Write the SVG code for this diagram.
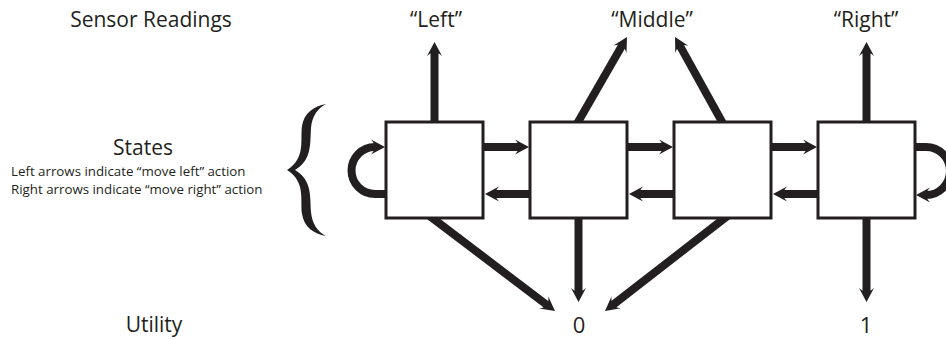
<svg xmlns="http://www.w3.org/2000/svg" width="946" height="339" viewBox="0 0 946 339">
<style>
.t{font-family:"Open Sans","Liberation Sans",sans-serif;fill:#231f20}
.lg{font-size:21px}
.sm{font-size:13.3px}
.num{font-size:22px}
.box{fill:#fff;stroke:#231f20;stroke-width:3}
.c{fill:none;stroke:#231f20;stroke-width:8;marker-end:url(#ah)}
</style>
<defs>
<marker id="ah" markerUnits="userSpaceOnUse" markerWidth="20" markerHeight="20" refX="5" refY="0" orient="auto" overflow="visible">
<path d="M14,0 L0,-7.5 Q4,-3 4,0 Q4,3 0,7.5 Z" fill="#231f20"/>
</marker>
</defs>
<rect width="946" height="339" fill="#fff"/>
<g id="labels">
<text class="t lg" x="151" y="27" text-anchor="middle">Sensor Readings</text>
<text class="t lg" x="143" y="155" text-anchor="middle">States</text>
<text class="t sm" x="11" y="176">Left arrows indicate “move left” action</text>
<text class="t sm" x="11" y="194">Right arrows indicate “move right” action</text>
<text class="t lg" x="154" y="332" text-anchor="middle">Utility</text>
</g>
<g id="brace">
<path fill="#231f20" d="M326,104 C314,106 304,113 302,126 C300,140 306,158 287,170 C306,182 300,200 302,214 C304,227 314,234 326,236 C318,232 312,224 311,212 C310,196 312,180 295,170 C312,160 310,144 311,128 C312,116 318,108 326,104 Z"/>
</g>
<g id="connectors">
<line class="c" x1="434.5" y1="130" x2="434.5" y2="51"/>
<line class="c" x1="574" y1="129" x2="622.5" y2="44.8"/>
<line class="c" x1="726" y1="129" x2="679.4" y2="44.9"/>
<line class="c" x1="866.5" y1="130" x2="866.5" y2="51"/>
<line class="c" x1="483" y1="147" x2="520" y2="147"/>
<line class="c" x1="627" y1="147" x2="664" y2="147"/>
<line class="c" x1="771" y1="147" x2="808" y2="147"/>
<line class="c" x1="530" y1="194" x2="494" y2="194"/>
<line class="c" x1="674" y1="194" x2="638" y2="194"/>
<line class="c" x1="818" y1="194" x2="782" y2="194"/>
<path class="c" d="M388,194 H375 A23.5,23.5 0 0 1 375,147 H376"/>
<path class="c" d="M914,147 H926 A24,24 0 0 1 926,195 H925"/>
<line class="c" x1="427" y1="214" x2="547.8" y2="305.6"/>
<line class="c" x1="578.5" y1="210" x2="578.5" y2="293"/>
<line class="c" x1="730" y1="214" x2="612.1" y2="305.5"/>
<line class="c" x1="866.5" y1="210" x2="866.5" y2="293"/>
</g>
<g id="s1"><rect class="box" x="386" y="122" width="97" height="96"/></g>
<g id="s2"><rect class="box" x="530" y="122" width="97" height="96"/></g>
<g id="s3"><rect class="box" x="674" y="122" width="97" height="96"/></g>
<g id="s4"><rect class="box" x="818" y="122" width="97" height="96"/></g>
<g id="obs-left"><text class="t lg" x="436" y="27" text-anchor="middle">“Left”</text></g>
<g id="obs-middle"><text class="t lg" x="652" y="27" text-anchor="middle">“Middle”</text></g>
<g id="obs-right"><text class="t lg" x="866" y="27" text-anchor="middle">“Right”</text></g>
<g id="u0"><text class="t num" x="579" y="333" text-anchor="middle">0</text></g>
<g id="u1"><text class="t num" x="866" y="333" text-anchor="middle">1</text></g>
</svg>
